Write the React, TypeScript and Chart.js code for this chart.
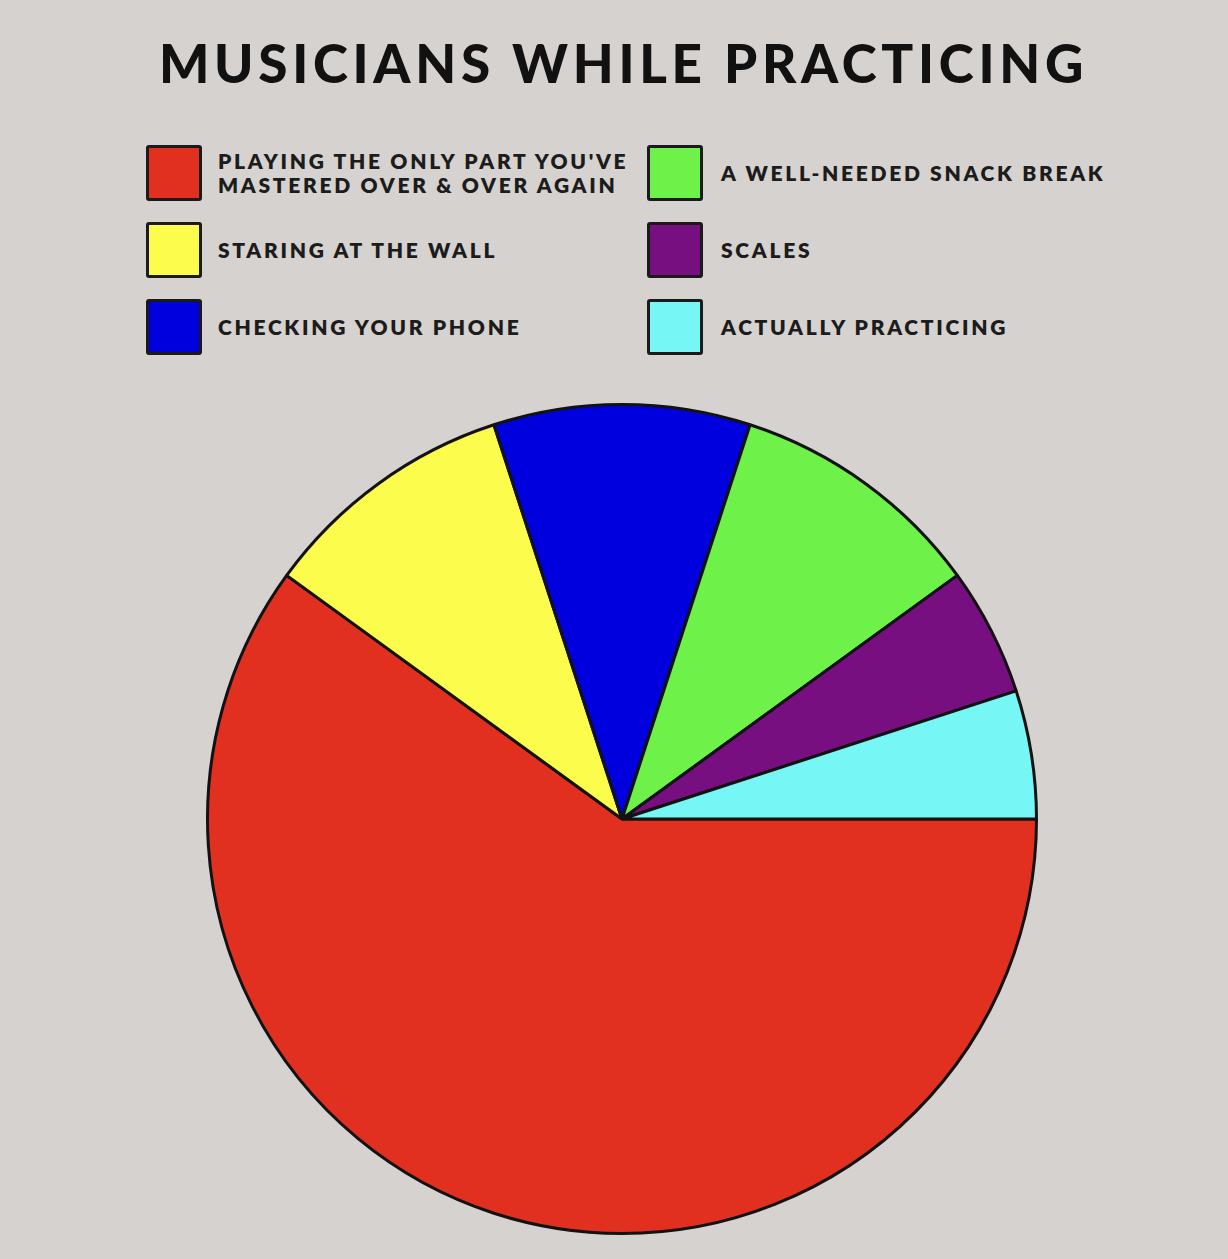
import React, { useEffect, useRef } from "react";
import { Chart, registerables } from "chart.js";

Chart.register(...registerables);

const TITLE = "MUSICIANS WHILE PRACTICING";
const categories: string[][] = [
  ["PLAYING THE ONLY PART YOU'VE", "MASTERED OVER & OVER AGAIN"],
  ["STARING AT THE WALL"],
  ["CHECKING YOUR PHONE"],
  ["A WELL-NEEDED SNACK BREAK"],
  ["SCALES"],
  ["ACTUALLY PRACTICING"],
];
const shares = [60, 10, 10, 10, 5, 5];
const colors = ["#e1301f", "#fcfc4c", "#0000de", "#6ef24a", "#780f80", "#76f6f4"];

const BG = "#d6d2cf";

export default function App() {
  const canvasRef = useRef<HTMLCanvasElement | null>(null);

  useEffect(() => {
    document.body.style.margin = "0";
    const ctx = canvasRef.current;
    if (!ctx) return;
    const chart = new Chart(ctx, {
      type: "pie",
      data: {
        labels: categories.map((c) => c.join(" ")),
        datasets: [
          {
            data: shares,
            backgroundColor: colors,
            borderColor: "#121212",
            borderWidth: 3,
          },
        ],
      },
      options: {
        animation: false,
        responsive: false,
        maintainAspectRatio: false,
        rotation: 90,
        layout: { padding: 4 },
        plugins: {
          legend: { display: false },
          tooltip: { enabled: false },
          title: { display: false },
        },
      },
    });
    return () => chart.destroy();
  }, []);

  const textStyle: React.CSSProperties = {
    position: "absolute",
    fontFamily: "Lato, 'Open Sans', sans-serif",
    fontWeight: 800,
    fontSize: 21,
    lineHeight: "24px",
    letterSpacing: "2.7px",
    color: "#1c1c1c",
    transform: "translateY(-50%)",
    whiteSpace: "nowrap",
  };

  return (
    <div
      style={{
        position: "relative",
        width: 1228,
        height: 1259,
        background: BG,
        overflow: "hidden",
      }}
    >
      <div
        style={{
          position: "absolute",
          left: 0,
          width: 1247,
          top: 36,
          textAlign: "center",
          fontFamily: "Lato, 'Open Sans', sans-serif",
          fontWeight: 900,
          fontSize: 53,
          lineHeight: "53px",
          letterSpacing: "4.7px",
          color: "#111",
          whiteSpace: "nowrap",
        }}
      >
        {TITLE}
      </div>
      {categories.map((lines, i) => {
        const col = Math.floor(i / 3);
        const row = i % 3;
        const boxLeft = col === 0 ? 146 : 647;
        const textLeft = col === 0 ? 218 : 721;
        const boxTop = 145 + row * 77;
        return (
          <React.Fragment key={i}>
            <div
              style={{
                position: "absolute",
                left: boxLeft,
                top: boxTop,
                width: 50,
                height: 50,
                background: colors[i],
                border: "3px solid #1a1a1a",
                borderRadius: 3,
              }}
            />
            <div style={{ ...textStyle, left: textLeft, top: boxTop + 28 }}>
              {lines.map((l, j) => (
                <div key={j}>{l}</div>
              ))}
            </div>
          </React.Fragment>
        );
      })}
      <canvas
        ref={canvasRef}
        width={840}
        height={840}
        style={{ position: "absolute", left: 202, top: 399, width: 840, height: 840 }}
      />
    </div>
  );
}
